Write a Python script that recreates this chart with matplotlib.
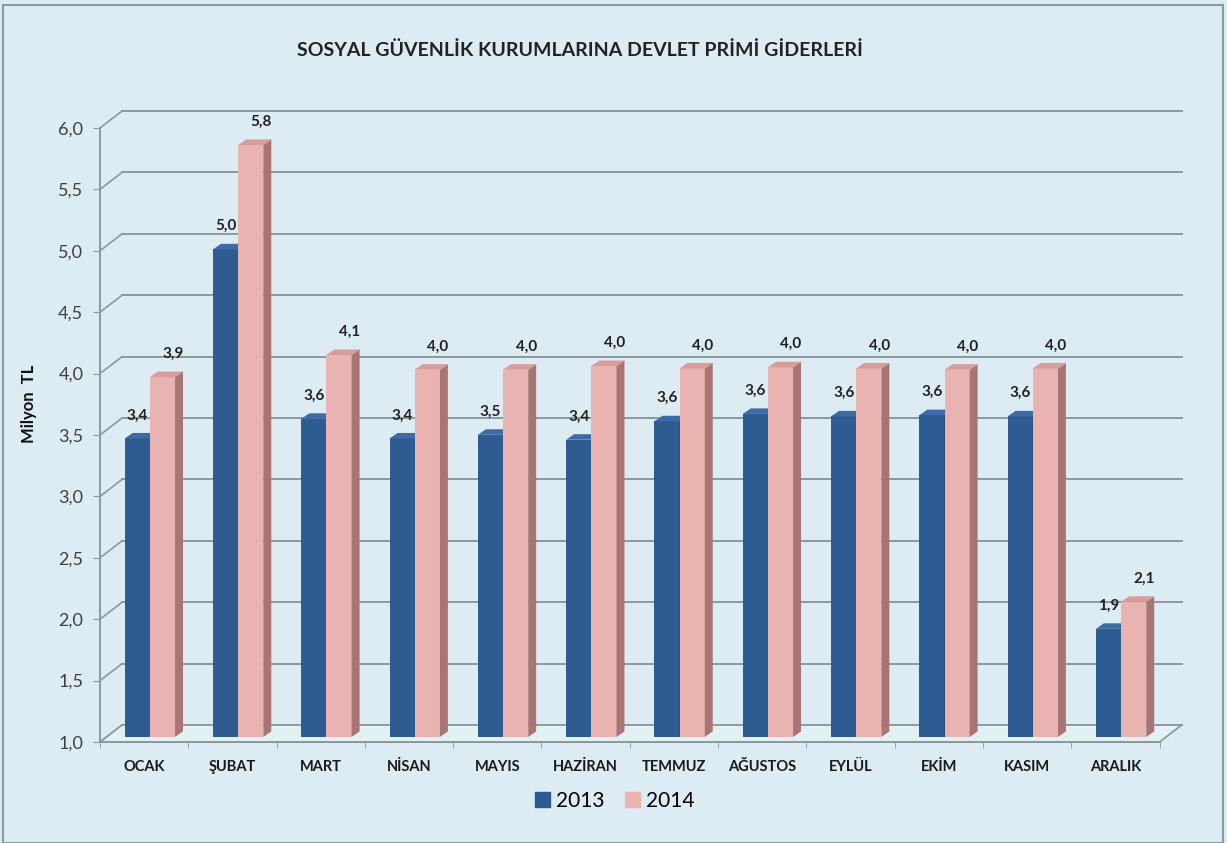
import numpy as np
import matplotlib
matplotlib.use('Agg')
import matplotlib.pyplot as plt
from matplotlib.patches import Rectangle

# Data (Milyon TL)
months = ['OCAK', 'ŞUBAT', 'MART', 'NİSAN', 'MAYIS', 'HAZİRAN',
          'TEMMUZ', 'AĞUSTOS', 'EYLÜL', 'EKİM', 'KASIM', 'ARALIK']
v2013 = [3.43, 4.97, 3.59, 3.43, 3.46, 3.42, 3.57, 3.63, 3.61, 3.62, 3.61, 1.88]
v2014 = [3.93, 5.82, 4.11, 3.99, 3.99, 4.02, 4.00, 4.01, 4.00, 3.99, 4.00, 2.10]
yticks = [1.0, 1.5, 2.0, 2.5, 3.0, 3.5, 4.0, 4.5, 5.0, 5.5, 6.0]

bg = '#dcecf2'
grid_c = '#8a999f'
blue, blue_side, blue_top = '#2f5b93', '#1f3e68', '#3e6aa6'
pink, pink_side, pink_top = '#e8b3b0', '#a87574', '#d89c9a'

plt.rcParams['font.family'] = ['Lato', 'DejaVu Sans']

fig = plt.figure(figsize=(12.27, 8.43), dpi=100)
fig.patch.set_facecolor(bg)
# outer chart frame
fig.patches.append(Rectangle((3 / 1227, 0), 1220 / 1227, 838 / 843, transform=fig.transFigure,
                             fill=False, edgecolor='#8a9aa0', lw=1.5, zorder=10))

ax = fig.add_axes([100 / 1227, (843 - 742) / 843, 1086 / 1227, 638.6 / 843])
ax.set_facecolor('none')
ax.set_xlim(0, 12.3)
ax.set_ylim(1.0, 6.2)

# depth of the fake 3D box (data units)
dx, dy = 0.25, 0.138

# back wall gridlines + diagonal connectors from the front axis
for v in yticks:
    ax.plot([dx, 12 + dx], [v + dy, v + dy], color=grid_c, lw=1.4, zorder=1, clip_on=False)
    ax.plot([0, dx], [v, v + dy], color=grid_c, lw=1.2, zorder=1, clip_on=False)

# floor
ax.fill([0, 12, 12 + dx, dx], [1, 1, 1 + dy, 1 + dy], facecolor='#e3f0f4',
        edgecolor=grid_c, lw=1.2, zorder=1, clip_on=False)

# bars, drawn a bit into the depth
ox, oy = 0.3 * dx, 0.3 * dy
bdx, bdy = 0.09, 0.045
w = 0.285
x = np.arange(len(months))


def bar3d(xl, val, c_front, c_side, c_top, z):
    xr = xl + w
    ax.bar(xl, val - 1, bottom=1 + oy, width=w, align='edge', color=c_front, zorder=z)
    ax.fill([xr, xr, xr + bdx, xr + bdx], [1 + oy, val + oy, val + oy + bdy, 1 + oy + bdy],
            color=c_side, zorder=z, lw=0)
    ax.fill([xl, xr, xr + bdx, xl + bdx], [val + oy, val + oy, val + oy + bdy, val + oy + bdy],
            color=c_top, zorder=z, lw=0)


for i in range(len(months)):
    xl13 = x[i] + 0.5 - w + ox - 0.01
    xl14 = xl13 + w
    bar3d(xl13, v2013[i], blue, blue_side, blue_top, 3)
    bar3d(xl14, v2014[i], pink, pink_side, pink_top, 4)
    ax.text(xl13 + w / 2, v2013[i] + 0.23, f'{v2013[i]:.1f}'.replace('.', ','),
            ha='center', va='center', fontsize=11, fontweight='bold', color='#222222', zorder=6)
    ax.text(xl14 + w / 2 + 0.12, v2014[i] + 0.23, f'{v2014[i]:.1f}'.replace('.', ','),
            ha='center', va='center', fontsize=11, fontweight='bold', color='#222222', zorder=6)

# axes styling
for s in ['top', 'right']:
    ax.spines[s].set_visible(False)
ax.spines['left'].set_bounds(1.0, 6.0)
ax.spines['bottom'].set_bounds(0, 12)
ax.spines['left'].set_color(grid_c)
ax.spines['bottom'].set_color(grid_c)
ax.spines['left'].set_linewidth(1.4)
ax.spines['bottom'].set_linewidth(1.4)
ax.spines['left'].set_zorder(2)

ax.set_yticks(yticks)
ax.set_yticklabels([f'{t:.1f}'.replace('.', ',') for t in yticks], fontsize=13, color='#404040')
ax.tick_params(axis='y', length=5, color=grid_c, pad=7)

ax.set_xticks(x + 0.5)
ax.set_xticklabels(months, fontsize=10.5, fontweight='bold', color='#1a1a1a')
ax.set_xticks(np.arange(13), minor=True)
ax.tick_params(axis='x', which='major', length=0, pad=13)
ax.tick_params(axis='x', which='minor', length=4, color=grid_c)

ax.set_ylabel('Milyon  TL', fontsize=12, fontweight='bold', color='#111111')
ax.yaxis.set_label_coords(-0.058, 0.53)

fig.text(580 / 1227, 1 - 50 / 843, 'SOSYAL GÜVENLİK KURUMLARINA DEVLET PRİMİ GİDERLERİ',
         ha='center', va='center', fontsize=14, fontweight='bold', color='#222222')

# legend
h1 = Rectangle((0, 0), 1, 1, color=blue)
h2 = Rectangle((0, 0), 1, 1, color=pink)
fig.legend([h1, h2], ['2013', '2014'], loc='center', bbox_to_anchor=(615 / 1227, 1 - 801 / 843),
           ncol=2, frameon=False, fontsize=15, handlelength=0.7, handleheight=0.7,
           handletextpad=0.3, columnspacing=1.0)

plt.savefig('out.png', dpi=100, facecolor=bg)
